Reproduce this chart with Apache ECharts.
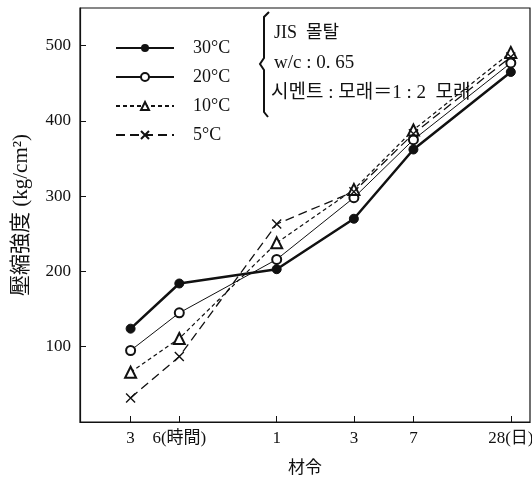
<!DOCTYPE html>
<html><head><meta charset="utf-8">
<script src="https://cdn.jsdelivr.net/npm/echarts@6/dist/echarts.min.js"></script>
<style>html,body{margin:0;padding:0;background:#fff}#c{width:532px;height:478px}</style>
</head><body><div id="c"></div>
<script>
const hours = [3, 6, 24, 72, 168, 672];
const tickLabels = ['3', '6(時間)', '1', '3', '7', '28(日)'];
const seriesNames = ['30°C', '20°C', '10°C', '5°C'];
const s30 = [124, 184, 203, 270, 362, 465];
const s20 = [95, 145, 216, 298, 375, 477];
const s10 = [66, 111, 238, 309, 388, 491];
const s5 = [32, 87, 263, 306, 383, 485];
const yTicks = [100, 200, 300, 400, 500];
const noteLines = ['JIS  몰탈', 'w/c : 0. 65', '시멘트 : 모래＝1 : 2  모래'];

const serif = '"Liberation Serif","DejaVu Serif","Noto Sans CJK KR",serif';
const chart = echarts.init(document.getElementById('c'));
const pair = arr => hours.map((h, i) => [h, arr[i]]);
const crossPath = 'path://M0,0L10,10M10,0L0,10';

chart.setOption({
  animation: false,
  backgroundColor: '#fff',
  grid: { left: 80, right: 2, top: 8, bottom: 56, show: true, borderColor: '#111', borderWidth: 1.2,
          outerBoundsMode: 'none', containLabel: false },
  legend: {
    orient: 'vertical', left: 110, top: 34, itemWidth: 58, itemHeight: 10, itemGap: 11,
    data: seriesNames,
    textStyle: { fontFamily: serif, fontSize: 18, color: '#111', padding: [0, 0, 0, 14] }
  },
  xAxis: {
    type: 'log', logBase: 10, min: 1.46, max: 883,
    axisLine: { lineStyle: { color: '#111', width: 1.2 } },
    axisTick: { inside: true, length: 6, customValues: hours, lineStyle: { color: '#111' } },
    axisLabel: {
      customValues: hours, color: '#111', fontFamily: serif, fontSize: 17, margin: 8,
      formatter: v => { let best = 0; hours.forEach((h, i) => { if (Math.abs(Math.log(h) - Math.log(v)) < Math.abs(Math.log(hours[best]) - Math.log(v))) best = i; }); return tickLabels[best]; }
    },
    splitLine: { show: false }, minorTick: { show: false },
    name: '材令', nameLocation: 'middle', nameGap: 38,
    nameTextStyle: { fontFamily: serif, fontSize: 17, color: '#111' }
  },
  yAxis: {
    type: 'value', min: 0, max: 550, interval: 100,
    axisLine: { show: true, lineStyle: { color: '#111', width: 1.2 } },
    axisTick: { show: true, inside: true, length: 6, customValues: yTicks, lineStyle: { color: '#111' } },
    axisLabel: { customValues: yTicks, color: '#111', fontFamily: serif, fontSize: 17, margin: 9 },
    splitLine: { show: false },
    name: '壓縮強度 (kg/cm²)', nameLocation: 'middle', nameGap: 48, nameRotate: 90,
    nameTextStyle: { fontFamily: serif, fontSize: 21, color: '#111' }
  },
  graphic: [
    { type: 'polyline', shape: { points: [[269, 12], [264, 17], [264, 58], [260, 64], [264, 70], [264, 112], [268, 117]] },
      style: { stroke: '#111', lineWidth: 2, fill: null } },
    { type: 'text', left: 274, top: 24, style: { text: noteLines[0], font: '18px ' + serif, fill: '#111' } },
    { type: 'text', left: 274, top: 54, style: { text: noteLines[1], font: '19px ' + serif, fill: '#111' } },
    { type: 'text', left: 271, top: 84, style: { text: noteLines[2], font: '19px ' + serif, fill: '#111' } }
  ],
  series: [
    { name: seriesNames[0], type: 'line', data: pair(s30), symbol: 'circle', symbolSize: 9,
      lineStyle: { color: '#111', width: 2.5 }, itemStyle: { color: '#111', borderColor: '#111' } },
    { name: seriesNames[1], type: 'line', data: pair(s20), symbol: 'emptyCircle', symbolSize: 9,
      lineStyle: { color: '#111', width: 1 }, itemStyle: { color: '#111', borderColor: '#111', borderWidth: 1.2 } },
    { name: seriesNames[2], type: 'line', data: pair(s10), symbol: 'emptyTriangle', symbolSize: 11,
      lineStyle: { color: '#111', width: 1.2, type: [4, 3] }, itemStyle: { color: '#111', borderColor: '#111', borderWidth: 1.2 } },
    { name: seriesNames[3], type: 'line', data: pair(s5), symbol: crossPath, symbolSize: 9,
      lineStyle: { color: '#111', width: 1.3, type: [9, 5] }, itemStyle: { color: 'none', borderColor: '#111', borderWidth: 1.4 } }
  ]
});
</script></body></html>
